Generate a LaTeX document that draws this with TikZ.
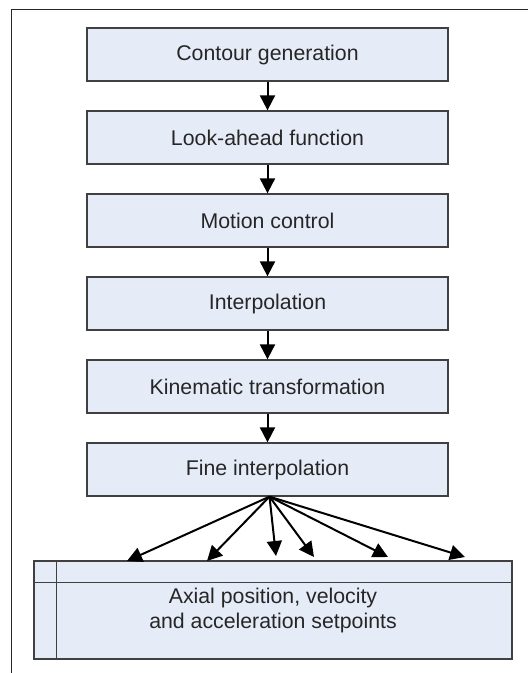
\documentclass[tikz,border=0pt]{standalone}
\usepackage{fontspec}
\setmainfont{Liberation Sans}
\usetikzlibrary{arrows.meta}
\definecolor{boxfill}{HTML}{E6ECF7}
\definecolor{boxdraw}{HTML}{404040}
\definecolor{txt}{HTML}{262626}
\begin{document}
\begin{tikzpicture}[x=1pt,y=-1pt,
  stepbox/.style={draw=boxdraw, line width=1.3pt, fill=boxfill, minimum width=361pt, minimum height=53pt, inner sep=0pt, font=\fontsize{21.3}{25}\selectfont, text=txt},
  outbox/.style={draw=boxdraw, line width=1.3pt, fill=boxfill, minimum width=478pt, minimum height=98pt, inner sep=0pt, align=center, font=\fontsize{21.3}{25}\selectfont, text=txt},
  flow/.style={line width=2pt, -{Triangle[length=15pt,width=15pt]}}]
\useasboundingbox (0,0) rectangle (528,673);
\draw[line width=1.3pt, color=black!85] (11.5,673) -- (11.5,9.5) -- (528,9.5);
\node[stepbox] (c1) at (267.5,54.5) {Contour generation};
\node[stepbox] (c2) at (267.5,137.5) {Look-ahead function};
\node[stepbox] (c3) at (267.5,220.5) {Motion control};
\node[stepbox] (c4) at (267.5,303.5) {Interpolation};
\node[stepbox] (c5) at (267.5,386.5) {Kinematic transformation};
\node[stepbox] (c6) at (267.5,469.5) {Fine interpolation};
\node[outbox] (out) at (273,610) {Axial position, velocity\\and acceleration setpoints};
\draw[boxdraw, line width=1.3pt] ([yshift=-22pt]out.north west) -- ([yshift=-22pt]out.north east);
\draw[boxdraw, line width=1.3pt] ([xshift=23pt]out.north west) -- ([xshift=23pt]out.south west);
\foreach \a/\b in {c1/c2,c2/c3,c3/c4,c4/c5,c5/c6}
  \draw[flow] (\a.south) -- (\b.north);
\coordinate (t1) at (127,561);
\coordinate (t2) at (207,561);
\coordinate (t3) at (276,556);
\coordinate (t4) at (314,557);
\coordinate (t5) at (388,557);
\coordinate (t6) at (465,557);
\foreach \t in {t1,t2,t3,t4,t5,t6}
  \draw[flow] ([xshift=2pt]c6.south) -- (\t);
\end{tikzpicture}
\end{document}
